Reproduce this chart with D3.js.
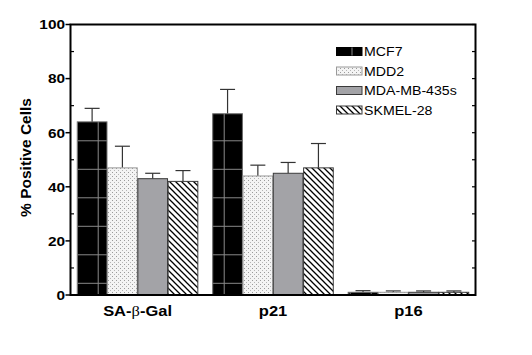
<!DOCTYPE html>
<html><head><meta charset="utf-8">
<script src="https://cdn.jsdelivr.net/npm/d3@7"></script>
<style>body{margin:0;background:#fff}svg{display:block}</style>
</head><body>
<svg id="c" width="532" height="355"></svg>
<script>
const categories = ["SA-β-Gal", "p21", "p16"];
const series = ["MCF7", "MDD2", "MDA-MB-435s", "SKMEL-28"];
const mcf7 = [64, 67, 1];
const mcf7Err = [5, 9, 0.6];
const mdd2 = [47, 44, 1];
const mdd2Err = [8, 4, 0.5];
const mda = [43, 45, 1];
const mdaErr = [2, 4, 0.5];
const skmel = [42, 47, 1];
const skmelErr = [4, 9, 0.5];
const yTicks = [0, 20, 40, 60, 80, 100];
const yMinor = [10, 30, 50, 70, 90];

const values = [mcf7, mdd2, mda, skmel];
const errs = [mcf7Err, mdd2Err, mdaErr, skmelErr];

const svg = d3.select("#c");
const L = 70.5, R = 475.5, T = 24.5, B = 295;
const y = d3.scaleLinear().domain([0, 100]).range([B, T]);
const x0 = d3.scaleBand().domain(categories).range([L, R]).paddingInner(0.11).paddingOuter(0.05);
const x1 = d3.scaleBand().domain(series).range([0, x0.bandwidth()]).paddingInner(0.02);

const defs = svg.append("defs");
// MCF7: black with gray grid
const p0 = defs.append("pattern").attr("id", "pat0").attr("patternUnits", "userSpaceOnUse")
  .attr("width", 21).attr("height", 28.5).attr("x", 97.7).attr("y", 140.3);
p0.append("rect").attr("width", 21).attr("height", 28.5).attr("fill", "#000");
p0.append("line").attr("x1", 0.5).attr("x2", 0.5).attr("y1", 0).attr("y2", 28.5).attr("stroke", "#8a8a8a").attr("stroke-width", 1);
p0.append("line").attr("x1", 0).attr("x2", 21).attr("y1", 0.5).attr("y2", 0.5).attr("stroke", "#8a8a8a").attr("stroke-width", 1);
// MDD2: stipple
const p1 = defs.append("pattern").attr("id", "pat1").attr("patternUnits", "userSpaceOnUse")
  .attr("width", 4).attr("height", 4);
p1.append("rect").attr("width", 4).attr("height", 4).attr("fill", "#f4f4f4");
p1.append("rect").attr("x", 0).attr("y", 0).attr("width", 1).attr("height", 1).attr("fill", "#9a9a9a");
p1.append("rect").attr("x", 2).attr("y", 2).attr("width", 1).attr("height", 1).attr("fill", "#b5b5b5");
// SKMEL: diagonal hatch
const p3 = defs.append("pattern").attr("id", "pat3").attr("patternUnits", "userSpaceOnUse")
  .attr("width", 6).attr("height", 6);
p3.append("rect").attr("width", 6).attr("height", 6).attr("fill", "#fff");
p3.append("path").attr("d", "M-1,-1 L7,7 M-1,5 L1,7 M5,-1 L7,1").attr("stroke", "#000").attr("stroke-width", 1.3);

const fills = ["url(#pat0)", "url(#pat1)", "#a3a3a7", "url(#pat3)"];
const strokes = ["#6a6a6a", "#9a9a9a", "#3a3a3a", "#3a3a3a"];

// bars
series.forEach((s, si) => {
  const g = svg.append("g");
  categories.forEach((c, ci) => {
    const v = values[si][ci], e = errs[si][ci];
    const bx = x0(c) + x1(s), bw = x1.bandwidth();
    const cx = bx + bw / 2;
    g.append("line").attr("x1", cx).attr("x2", cx).attr("y1", y(v)).attr("y2", y(v + e))
      .attr("stroke", "#333").attr("stroke-width", 1.2);
    g.append("line").attr("x1", cx - 7.5).attr("x2", cx + 7.5).attr("y1", y(v + e)).attr("y2", y(v + e))
      .attr("stroke", "#333").attr("stroke-width", 1.2);
    g.append("rect").attr("x", bx).attr("y", y(v)).attr("width", bw).attr("height", y(0) - y(v))
      .attr("fill", fills[si]).attr("stroke", strokes[si]).attr("stroke-width", 1);
  });
});

// frame
const frame = svg.append("g").attr("stroke", "#000").attr("fill", "none");
frame.append("rect").attr("x", L).attr("y", T).attr("width", R - L).attr("height", B - T).attr("stroke-width", 2);
// left ticks
yTicks.forEach(t => frame.append("line").attr("x1", L - 5).attr("x2", L).attr("y1", y(t)).attr("y2", y(t)).attr("stroke-width", 1.5));
yMinor.forEach(t => frame.append("line").attr("x1", L).attr("x2", L + 3.5).attr("y1", y(t)).attr("y2", y(t)).attr("stroke-width", 1.2));
// right ticks
yTicks.concat(yMinor).forEach(t => frame.append("line").attr("x1", R - 3.5).attr("x2", R).attr("y1", y(t)).attr("y2", y(t)).attr("stroke-width", 1.2));

function stext(parent, x, yy, str, size, weight, sx, anchor) {
  return parent.append("g").attr("transform", `translate(${x},${yy}) scale(${sx},1)`)
    .append("text").attr("font-family", "Liberation Sans, Arial, sans-serif")
    .attr("font-size", size).attr("font-weight", weight).attr("text-anchor", anchor).text(str);
}
// y tick labels
yTicks.forEach(t => stext(svg, 65, y(t) + 4.8, String(t), 13.5, "bold", 1.14, "end"));

// category labels
categories.forEach(c => {
  const g = svg.append("g").attr("transform", `translate(${x0(c) + x0.bandwidth() / 2},315.5) scale(1.1,1)`);
  const t = g.append("text").attr("font-family", "Liberation Sans, Arial, sans-serif")
    .attr("font-size", 15).attr("font-weight", "bold").attr("text-anchor", "middle");
  if (c.includes("β")) {
    const parts = c.split("β");
    t.append("tspan").text(parts[0]);
    t.append("tspan").attr("font-family", "Liberation Serif, serif").attr("font-weight", "normal").text("β");
    t.append("tspan").text(parts[1]);
  } else t.text(c);
});

// y title
svg.append("text").attr("transform", `translate(31,157.5) rotate(-90)`)
  .attr("font-family", "Liberation Sans, Arial, sans-serif").attr("font-size", 15.5)
  .attr("font-weight", "bold").attr("text-anchor", "middle").text("% Positive Cells");

// legend
const legY = [51.5, 71, 90.5, 110];
series.forEach((s, si) => {
  svg.append("rect").attr("x", 336.5).attr("y", legY[si] - 4).attr("width", 25.5).attr("height", 8)
    .attr("fill", si === 0 ? "#000" : fills[si]).attr("stroke", strokes[si] === "#6a6a6a" ? "#000" : strokes[si]).attr("stroke-width", 1);
  if (si === 0) svg.append("line").attr("x1", 352).attr("x2", 352).attr("y1", legY[si] - 4).attr("y2", legY[si] + 4)
    .attr("stroke", "#8a8a8a");
  stext(svg, 364, legY[si] + 4.8, s, 13, "normal", 1.09, "start");
});
</script>
</body></html>
